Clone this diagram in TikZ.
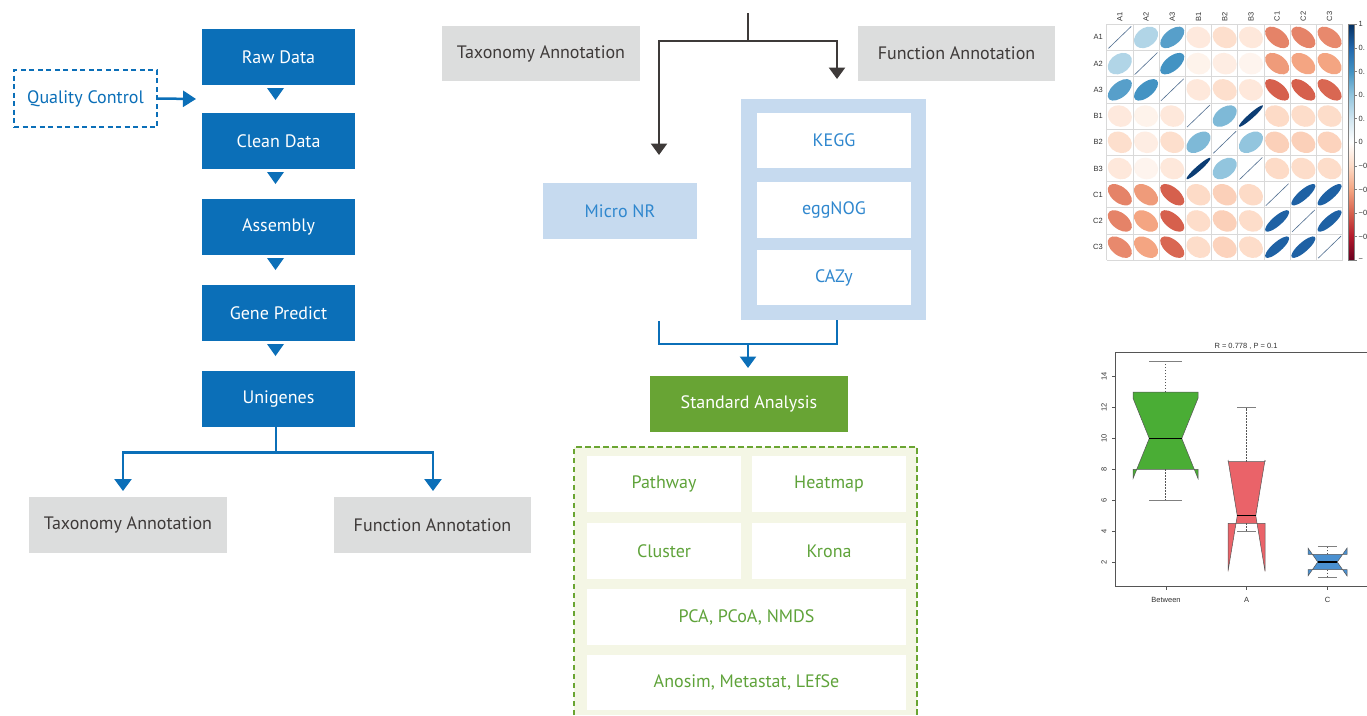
\documentclass[tikz,border=0pt]{standalone}
\usepackage{fontspec}
\setmainfont{PT Sans}
\newfontfamily\plotfont{Liberation Sans}
\usetikzlibrary{arrows.meta,calc}
\definecolor{qblue}{HTML}{0B6FB8}
\definecolor{qgray}{HTML}{DCDDDD}
\definecolor{qdark}{HTML}{3E3A39}
\definecolor{qlb}{HTML}{C6DAEF}
\definecolor{qtxtblue}{HTML}{2F87CE}
\definecolor{qgreen}{HTML}{68A434}
\definecolor{qgreenl}{HTML}{6AA532}
\definecolor{qgtxt}{HTML}{5FA33A}
\definecolor{qcream}{HTML}{F4F6E5}
\definecolor{cs0}{HTML}{67001F}
\definecolor{cs1}{HTML}{B2182B}
\definecolor{cs2}{HTML}{D6604D}
\definecolor{cs3}{HTML}{F4A582}
\definecolor{cs4}{HTML}{FDDBC7}
\definecolor{cs5}{HTML}{FFFFFF}
\definecolor{cs6}{HTML}{D1E5F0}
\definecolor{cs7}{HTML}{92C5DE}
\definecolor{cs8}{HTML}{4393C3}
\definecolor{cs9}{HTML}{2166AC}
\definecolor{cs10}{HTML}{053061}
\definecolor{bpgreen}{HTML}{4AAD35}
\definecolor{bpred}{HTML}{EA6369}
\definecolor{bpblue}{HTML}{4A90D0}
\definecolor{plotgray}{HTML}{555555}
\newcommand\mainsz{\fontsize{18}{21}\selectfont}
\newcommand\plotsz{\plotfont\fontsize{7.5}{9}\selectfont}
\newcommand\downtri[1]{\fill[qblue] ($(#1.south)+(-11.5,3)$) -- ++(17,0) -- ++(-8.5,12) -- cycle;}
\newcommand\corrcell[3]{%
  \pgfmathsetmacro\cra{abs(#3)}%
  \pgfmathtruncatemacro\ck{min(9,floor((#3+1)/0.2))}%
  \pgfmathtruncatemacro\ckk{\ck+1}%
  \pgfmathtruncatemacro\cp{round(((#3+1)/0.2-\ck)*100)}%
  \colorlet{cc}{cs\ckk!\cp!cs\ck}%
  \pgfmathsetmacro\cma{11.6*sqrt(1+\cra)}%
  \pgfmathsetmacro\cmi{11.6*sqrt(1-\cra)}%
  \pgfmathsetmacro\cang{(#3<0) ? -45 : 45}%
  \pgfmathsetmacro\ccx{1106.7+(#1-0.5)*26.22}%
  \pgfmathsetmacro\ccy{24.3+(#2-0.5)*26.22}%
  \fill[cc, shift={(\ccx,\ccy)}, xscale=1.04, yscale=0.93, rotate=\cang] (0,0) ellipse [x radius=\cma pt, y radius=\cmi pt];%
}
\newcommand\notchbox[9]{%
  \pgfmathsetmacro\ya{592.9-15.45*#3}%
  \pgfmathsetmacro\yb{592.9-15.45*#4}%
  \pgfmathsetmacro\ym{592.9-15.45*#5}%
  \pgfmathsetmacro\ylo{592.9-15.45*(#5-#6)}%
  \pgfmathsetmacro\yhi{592.9-15.45*(#5+#6)}%
  \pgfmathsetmacro\ymn{592.9-15.45*#7}%
  \pgfmathsetmacro\ymx{592.9-15.45*#8}%
  \pgfmathsetmacro\xl{#1-#2}%
  \pgfmathsetmacro\xr{#1+#2}%
  \pgfmathsetmacro\xml{#1-#2/2}%
  \pgfmathsetmacro\xmr{#1+#2/2}%
  \draw[plotgray, line width=0.5pt, dash pattern=on 1.5pt off 1.5pt] (#1,\yb) -- (#1,\ymx) (#1,\ya) -- (#1,\ymn);%
  \draw[gray, line width=0.7pt] (\xml,\ymx) -- (\xmr,\ymx) (\xml,\ymn) -- (\xmr,\ymn);%
  \filldraw[fill=#9, draw=plotgray, line width=0.5pt] (\xl,\ya) -- (\xl,\ylo) -- (\xml,\ym) -- (\xl,\yhi) -- (\xl,\yb) -- (\xr,\yb) -- (\xr,\yhi) -- (\xmr,\ym) -- (\xr,\ylo) -- (\xr,\ya) -- cycle;%
  \draw[black, line width=1.5pt] (\xml,\ym) -- (\xmr,\ym);%
}
\begin{document}
\begin{tikzpicture}[x=1pt,y=-1pt,
  box/.style={inner sep=0pt, outer sep=0pt, font=\mainsz, align=center},
  bluebox/.style={box, fill=qblue, text=white, minimum width=153pt, minimum height=56pt},
  graybox/.style={box, fill=qgray, text=qdark, minimum width=198pt, minimum height=56pt},
  lbbox/.style={box, fill=qlb, text=qtxtblue},
  whitebox/.style={box, fill=white},
  gbox/.style={box, fill=white, text=qgtxt, minimum width=154pt, minimum height=56pt},
  bline/.style={qblue, line width=2.5pt},
  dline/.style={qdark, line width=2.5pt},
  tri/.style={-{Triangle[length=12pt,width=17pt]}},
  tritwo/.style={-{Triangle[length=11.5pt,width=16pt]}},
  plotlab/.style={inner sep=0pt, font=\plotsz, text=black!80}
]
\fill[white] (0,0) rectangle (1367,715);
\useasboundingbox (0,0) rectangle (1367,715);

% ---------- left column ----------
\node[bluebox] (raw) at (278.5,57) {Raw Data};
\node[bluebox] (clean) at (278.5,141) {Clean Data};
\node[bluebox] (asm) at (278.5,227) {Assembly};
\node[bluebox] (gene) at (278.5,313) {Gene Predict};
\node[bluebox] (uni) at (278.5,399) {Unigenes};
\downtri{raw}
\downtri{clean}
\downtri{asm}
\downtri{gene}

\node[box, draw=qblue, line width=2.5pt, dash pattern=on 5pt off 3.5pt, text=qblue,
      minimum width=143pt, minimum height=57pt] (qc) at (85.5,98.5) {Quality Control};
\coordinate (qct) at ($(raw.south west)!0.5!(clean.north west)+(-6,0)$);
\draw[bline, -{Triangle[length=13pt,width=16pt]}] (qc.east) -- (qct);

\node[graybox] (taxL) at (128,525) {Taxonomy Annotation};
\node[graybox, minimum width=197pt] (funL) at (432.5,525) {Function Annotation};
\draw[bline] ($(uni.south)+(-2.5,0)$) -- ++(0,25.5) coordinate (jL);
\draw[bline, tri] (jL) -| ($(taxL.north)+(-5,-6)$);
\draw[bline, tri] (jL) -| ($(funL.north)+(0.5,-6)$);

% ---------- middle ----------
\node[graybox, minimum height=55pt] (taxM) at (541,53.5) {Taxonomy Annotation};
\node[graybox, minimum width=197pt, minimum height=55pt] (funM) at (956.5,53.5) {Function Annotation};
\coordinate (top) at (748,13);
\coordinate (tl) at (659,155);
\coordinate (tr) at (837,79);
\draw[dline] (top) -- ++(0,28) coordinate (jM);
\draw[dline, tritwo] (jM) -| (tl);
\draw[dline, tritwo] (jM) -| (tr);

\node[lbbox, minimum width=154pt, minimum height=56pt] (nr) at (620,211) {Micro NR};
\node[box, fill=qlb, minimum width=185pt, minimum height=221pt] (panel) at (833.5,209.5) {};
\node[whitebox, text=qtxtblue, minimum width=154pt, minimum height=55pt] (kegg) at (834,140.5) {KEGG};
\node[whitebox, text=qtxtblue, minimum width=154pt, minimum height=56pt] (egg) at (834,210) {eggNOG};
\node[whitebox, text=qtxtblue, minimum width=154pt, minimum height=55pt] (cazy) at (834,277.5) {CAZy};

\node[box, fill=qgreen, text=white, minimum width=198pt, minimum height=56pt] (std) at (749,404) {Standard Analysis};
\coordinate (bl) at (659,321);
\coordinate (pb) at ($(panel.south)+(3.5,0)$);
\draw[bline] (bl) -- ++(0,23) -| (pb);
\coordinate (jB) at ($(bl)!0.5!(pb)+(0,23)$);
\draw[bline, tritwo] (jB) -- ($(std.north)+(-1,-8)$);

\node[box, fill=qcream, minimum width=343pt, minimum height=268pt] (sabg) at (745.5,581) {};
\draw[qgreenl, line width=2.5pt, dash pattern=on 5.5pt off 3.5pt] (sabg.south west) -- (sabg.north west) -- (sabg.north east) -- (sabg.south east);
\node[gbox] (pw) at (664,484) {Pathway};
\node[gbox] (hm) at (829,484) {Heatmap};
\node[gbox] (cl) at (664,551) {Cluster};
\node[gbox] (kr) at (829,551) {Krona};
\node[gbox, minimum width=319pt] (pca) at (746.5,617) {PCA, PCoA, NMDS};
\node[gbox, minimum width=319pt, minimum height=55pt] (ano) at (746.5,682) {Anosim, Metastat, LEfSe};

% ---------- correlation matrix ----------
\foreach \k in {0,...,9} {
  \draw[black!15, line width=0.8pt] ({1106.7+\k*26.22},24.3) -- ({1106.7+\k*26.22},260.3);
  \draw[black!15, line width=0.8pt] (1106.7,{24.3+\k*26.22}) -- (1342.7,{24.3+\k*26.22});
}
\foreach \i/\j/\r in {1/2/0.3, 1/3/0.55, 1/4/-0.12, 1/5/-0.18, 1/6/-0.13, 1/7/-0.5, 1/8/-0.5, 1/9/-0.48,
  2/3/0.6, 2/4/-0.07, 2/5/-0.1, 2/6/-0.06, 2/7/-0.43, 2/8/-0.4, 2/9/-0.4,
  3/4/-0.13, 3/5/-0.18, 3/6/-0.13, 3/7/-0.6, 3/8/-0.6, 3/9/-0.58,
  4/5/0.45, 4/6/0.95, 4/7/-0.2, 4/8/-0.19, 4/9/-0.19,
  5/6/0.4, 5/7/-0.24, 5/8/-0.24, 5/9/-0.23,
  6/7/-0.2, 6/8/-0.19, 6/9/-0.19,
  7/8/0.82, 7/9/0.82, 8/9/0.82} {
  \corrcell{\i}{\j}{\r}
  \corrcell{\j}{\i}{\r}
}
\foreach \k in {1,...,9} {
  \pgfmathsetmacro\dcx{1106.7+(\k-0.5)*26.22}
  \pgfmathsetmacro\dcy{24.3+(\k-0.5)*26.22}
  \draw[cs10!70!white, line width=0.6pt, shift={(\dcx,\dcy)}] (-11.4pt,-11pt) -- (11.4pt,11pt);
}
\foreach \lab [count=\n] in {A1,A2,A3,B1,B2,B3,C1,C2,C3} {
  \node[plotlab, anchor=east] (rl\n) at (1103,{24.3+(\n-0.5)*26.22}) {\lab};
  \node[plotlab, anchor=west, rotate=90] (cl\n) at ({1106.7+(\n-0.5)*26.22},21.5) {\lab};
}
\foreach \k in {0,...,9} {
  \pgfmathtruncatemacro\kk{\k+1}
  \shade[bottom color=cs\k, top color=cs\kk] (1348,{260.3-\k*23.6}) rectangle (1354,{260.3-(\k+1)*23.6});
}
\draw[gray, line width=0.5pt] (1348,24.3) rectangle (1354,260.3);
\foreach \lab [count=\n from 0] in {1,0.,0.,0.,0.,0,−0,−0,−0,−0,−} {
  \draw[gray, line width=0.5pt] (1354,{24.3+\n*23.6}) -- (1356.5,{24.3+\n*23.6});
  \node[plotlab, anchor=west] at (1358.5,{24.3+\n*23.6}) {\lab};
}

% ---------- boxplot ----------
\draw[plotgray, line width=0.7pt] (1367,352) -- (1115.5,352) -- (1115.5,586) -- (1367,586);
\node[plotlab] (bptitle) at (1246,346.5) {R =  0.778 ,  P =  0.1};
\foreach \v in {2,4,...,14} {
  \draw[plotgray, line width=0.6pt] (1115.5,{592.9-15.45*\v}) -- (1111.5,{592.9-15.45*\v});
  \node[plotlab, rotate=90] at (1104,{592.9-15.45*\v}) {\v};
}
\foreach \x/\lab in {1166/Between, 1246.5/A, 1327.5/C} {
  \draw[plotgray, line width=0.6pt] (\x,586) -- (\x,590);
  \node[plotlab] at (\x,600) {\lab};
}
\notchbox{1165.5}{32.5}{8}{13}{10}{2.6}{6}{15}{bpgreen}
\notchbox{1246.5}{18.5}{4.5}{8.5}{5}{3.6}{4}{12}{bpred}
\notchbox{1327.5}{19.5}{1.5}{2.5}{2}{0.9}{1}{3}{bpblue}
\end{tikzpicture}
\end{document}
